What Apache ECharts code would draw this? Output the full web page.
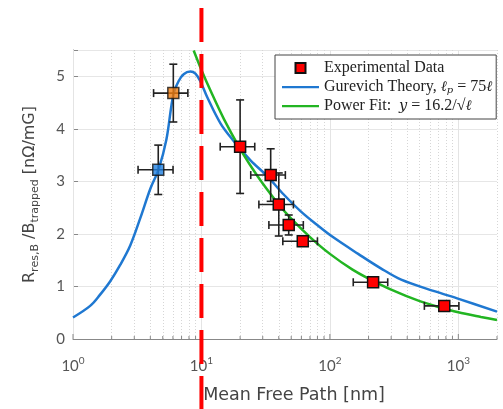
<!DOCTYPE html>
<html><head><meta charset="utf-8">
<script src="https://cdn.jsdelivr.net/npm/echarts@6/dist/echarts.min.js"></script>
<style>html,body{margin:0;padding:0;background:#fff}#c{width:503px;height:409px}</style>
</head><body><div id="c"></div>
<script>
// Experimental data (red squares): x, y, x error, y error
const expX    = [20, 34.6, 40, 47.8, 61.5, 217, 777];
const expY    = [3.66, 3.12, 2.56, 2.17, 1.86, 1.08, 0.63];
const expXErr = [6.0, 10.4, 12.0, 14.3, 18.5, 65, 233];
const expYErr = [0.89, 0.50, 0.60, 0.19, 0.03, 0, 0];
// Highlighted points (blue, orange)
const blueX = [4.61], blueY = [3.22], blueXErr = [1.4], blueYErr = [0.47];
const orangeX = [6.04], orangeY = [4.68], orangeXErr = [1.8], orangeYErr = [0.55];
// Gurevich theory curve
const theoryX = [1.0, 1.36, 1.62, 1.95, 2.33, 2.79, 3.34, 4.0, 4.64, 5.33, 6.04, 6.65, 7.27, 8.2, 8.98, 9.82, 11.1, 14.1, 17.8, 24.1, 32.8, 43.7, 59.3, 80.6, 107, 166, 251, 359, 650, 1020, 2000];
const theoryY = [0.41, 0.63, 0.84, 1.10, 1.41, 1.78, 2.30, 2.86, 3.23, 3.79, 4.65, 4.91, 5.04, 5.09, 5.05, 4.90, 4.60, 4.10, 3.77, 3.40, 3.09, 2.75, 2.43, 2.16, 1.93, 1.62, 1.34, 1.13, 0.91, 0.76, 0.52];
// Power fit curve
const fitX = [8.7, 10, 12, 15, 20, 25, 30, 40, 50, 70, 100, 150, 200, 300, 500, 700, 1000, 1500, 2000];
const fitY = [5.49, 5.12, 4.68, 4.18, 3.62, 3.24, 2.96, 2.56, 2.29, 1.94, 1.62, 1.32, 1.15, 0.94, 0.72, 0.61, 0.51, 0.42, 0.36];
// Cutoff line position
const cutoffX = [10];
// Axis ticks
const xMajorTicks = [1, 10, 100, 1000];
const xMinorTicks = [2,3,4,5,6,7,8,9,20,30,40,50,60,70,80,90,200,300,400,500,600,700,800,900,2000];
const yTicks = [0, 1, 2, 3, 4, 5];
const seriesNames = ['Experimental Data', 'Gurevich Theory', 'Power Fit'];

const FONT = 'Lato';
const NAMEFONT = 'DejaVu Sans';
const chart = echarts.init(document.getElementById('c'), null, {renderer: 'canvas'});

function zip(a, b, c, d) { return a.map((v, i) => [v, b[i], c[i], d[i]]); }

function seg(x1, y1, x2, y2) {
  return {type: 'line', shape: {x1: x1, y1: y1, x2: x2, y2: y2},
    style: {stroke: '#222', lineWidth: 1.6, lineDash: null, fill: null}};
}
function errRender(params, api) {
  const x = api.value(0), y = api.value(1), dx = api.value(2), dy = api.value(3);
  const c = api.coord([x, y]);
  const l = api.coord([x - dx, y]);
  const r = api.coord([x + dx, y]);
  const cap = 4;
  const ch = [
    seg(l[0], c[1], r[0], c[1]),
    seg(l[0], c[1] - cap, l[0], c[1] + cap),
    seg(r[0], c[1] - cap, r[0], c[1] + cap)
  ];
  if (dy > 0.05) {
    const t = api.coord([x, y + dy]);
    const b = api.coord([x, y - dy]);
    ch.push(seg(c[0], t[1], c[0], b[1]));
    ch.push(seg(c[0] - cap, t[1], c[0] + cap, t[1]));
    ch.push(seg(c[0] - cap, b[1], c[0] + cap, b[1]));
  }
  return {type: 'group', children: ch};
}

const SQ = 'path://M0 0H10V10H0Z';
const LINEICON = 'path://M0 0M37 10M0 4H37V6.2H0Z';
const gridLines = xMinorTicks.map(v => ({xAxis: v, lineStyle: {color: '#d6d6d6', type: [1, 2], width: 1}}))
  .concat(xMajorTicks.map(v => ({xAxis: v, lineStyle: {color: '#e4e4e4', type: 'solid', width: 1}})));

const option = {
  animation: false,
  backgroundColor: '#fff',
  grid: {left: 73, right: 6, top: 50, bottom: 63, containLabel: false},
  xAxis: [{
    type: 'log', logBase: 10, min: 1, max: 2000,
    name: 'Mean Free Path [nm]', nameLocation: 'middle', nameGap: 47,
    nameTextStyle: {fontFamily: NAMEFONT, fontSize: 17.5, color: '#444', padding: [0, 0, 0, 18]},
    axisLine: {lineStyle: {color: '#888', width: 1}},
    axisTick: {show: false},
    splitLine: {show: false},
    axisLabel: {
      margin: 17, color: '#555', fontFamily: FONT, fontSize: 15,
      formatter: function (v) {
        const e = Math.log10(v);
        if (Math.abs(e - Math.round(e)) > 1e-6) return '';
        return '{b|10}{s|' + Math.round(e) + '}';
      },
      rich: {
        b: {fontFamily: FONT, fontSize: 15, color: '#555', lineHeight: 20},
        s: {fontFamily: FONT, fontSize: 10, color: '#555', lineHeight: 12, verticalAlign: 'top'}
      }
    }
  }],
  yAxis: [{
    type: 'value', min: 0, max: 5.5, interval: 1,
    name: '{n|R}{s|res,B}{n| /B}{s|trapped}{n| [nΩ/mG]}',
    nameLocation: 'middle', nameGap: 32, nameRotate: 90,
    nameTextStyle: {
      fontFamily: NAMEFONT, fontSize: 16, color: '#444',
      rich: {
        n: {fontFamily: NAMEFONT, fontSize: 16, color: '#444', lineHeight: 22},
        s: {fontFamily: NAMEFONT, fontSize: 11, color: '#444', lineHeight: 11, verticalAlign: 'bottom'}
      }
    },
    axisLine: {show: true, lineStyle: {color: '#888', width: 1}},
    axisTick: {show: true, inside: true, length: 5, lineStyle: {color: '#888'}},
    splitLine: {show: true, lineStyle: {color: '#e6e6e6', width: 1}},
    axisLabel: {
      margin: 8, color: '#555', fontFamily: FONT, fontSize: 15,
      formatter: v => (Math.abs(v - Math.round(v)) < 1e-6 ? String(v) : '')
    }
  }],
  legend: {
    orient: 'vertical', left: 275, top: 55,
    backgroundColor: '#fff', borderColor: '#444', borderWidth: 1,
    padding: [5, 4, 5, 7],
    itemWidth: 37, itemHeight: 10, itemGap: 3, symbolKeepAspect: true,
    textStyle: {
      fontFamily: 'Liberation Serif', fontSize: 16, color: '#222', lineHeight: 16,
      rich: {
        t: {fontFamily: 'Liberation Serif', fontSize: 16, color: '#222', lineHeight: 16},
        i: {fontFamily: 'DejaVu Serif', fontSize: 14.5, fontStyle: 'italic', color: '#222', lineHeight: 16},
        sub: {fontFamily: 'DejaVu Serif', fontSize: 10, fontStyle: 'italic', color: '#222', lineHeight: 10, verticalAlign: 'bottom'}
      }
    },
    data: [
      {name: seriesNames[0], icon: SQ},
      {name: seriesNames[1], icon: LINEICON},
      {name: seriesNames[2], icon: LINEICON}
    ],
    formatter: function (name) {
      if (name === seriesNames[1]) return '{t|Gurevich Theory, }{i|ℓ}{sub|p}{t| = 75}{i|ℓ}';
      if (name === seriesNames[2]) return '{t|Power Fit:  }{i|y}{t| = 16.2/√}{i|ℓ}';
      return '{t|' + name + '}';
    }
  },
  series: [
    {
      name: 'grid', type: 'line', data: [], z: 1, silent: true,
      markLine: {z: 1, silent: true, symbol: 'none', label: {show: false}, animation: false, data: gridLines}
    },
    {
      name: 'ticks', type: 'custom', z: 2, silent: true, clip: false,
      data: xMajorTicks.map(v => [v, 5]).concat(xMinorTicks.map(v => [v, 3])),
      renderItem: function (params, api) {
        const p = api.coord([api.value(0), 0]);
        return {type: 'line', shape: {x1: p[0], y1: p[1], x2: p[0], y2: p[1] - api.value(1)}, style: {stroke: '#888', lineWidth: 1}};
      }
    },
    {
      name: seriesNames[1], type: 'line', z: 3, symbol: 'none', smooth: 0.35,
      lineStyle: {color: '#1f78d1', width: 2.5}, itemStyle: {color: '#1f78d1'},
      data: theoryX.map((v, i) => [v, theoryY[i]])
    },
    {
      name: seriesNames[2], type: 'line', z: 3, symbol: 'none', smooth: 0.3,
      lineStyle: {color: '#22b522', width: 2.5}, itemStyle: {color: '#22b522'},
      data: fitX.map((v, i) => [v, fitY[i]])
    },
    {
      name: 'errbars', type: 'custom', z: 6, silent: true, clip: false,
      renderItem: errRender,
      data: zip(expX, expY, expXErr, expYErr)
        .concat(zip(blueX, blueY, blueXErr, blueYErr))
        .concat(zip(orangeX, orangeY, orangeXErr, orangeYErr))
    },
    {
      name: seriesNames[0], type: 'scatter', z: 7, symbol: SQ, symbolSize: 11, symbolKeepAspect: true,
      itemStyle: {color: '#ff0000', borderColor: '#111', borderWidth: 1.5, opacity: 1},
      data: expX.map((v, i) => [v, expY[i]])
    },
    {
      name: 'blue', type: 'scatter', z: 7, symbol: SQ, symbolSize: 11,
      itemStyle: {color: '#1f7fe0', borderColor: '#111', borderWidth: 1.5},
      data: blueX.map((v, i) => [v, blueY[i]])
    },
    {
      name: 'orange', type: 'scatter', z: 7, symbol: SQ, symbolSize: 11,
      itemStyle: {color: '#f07d10', borderColor: '#111', borderWidth: 1.5},
      data: orangeX.map((v, i) => [v, orangeY[i]])
    },
    {
      name: 'cutoff', type: 'custom', z: 10, silent: true, clip: false,
      data: cutoffX.map(v => [v, 0]),
      renderItem: function (params, api) {
        const p = api.coord([api.value(0), 0]);
        return {type: 'line', shape: {x1: p[0], y1: 0, x2: p[0], y2: api.getHeight()},
          style: {stroke: '#ff0000', lineWidth: 4, lineDash: [34, 12], lineDashOffset: 38}};
      }
    }
  ]
};
chart.setOption(option);
</script></body></html>
